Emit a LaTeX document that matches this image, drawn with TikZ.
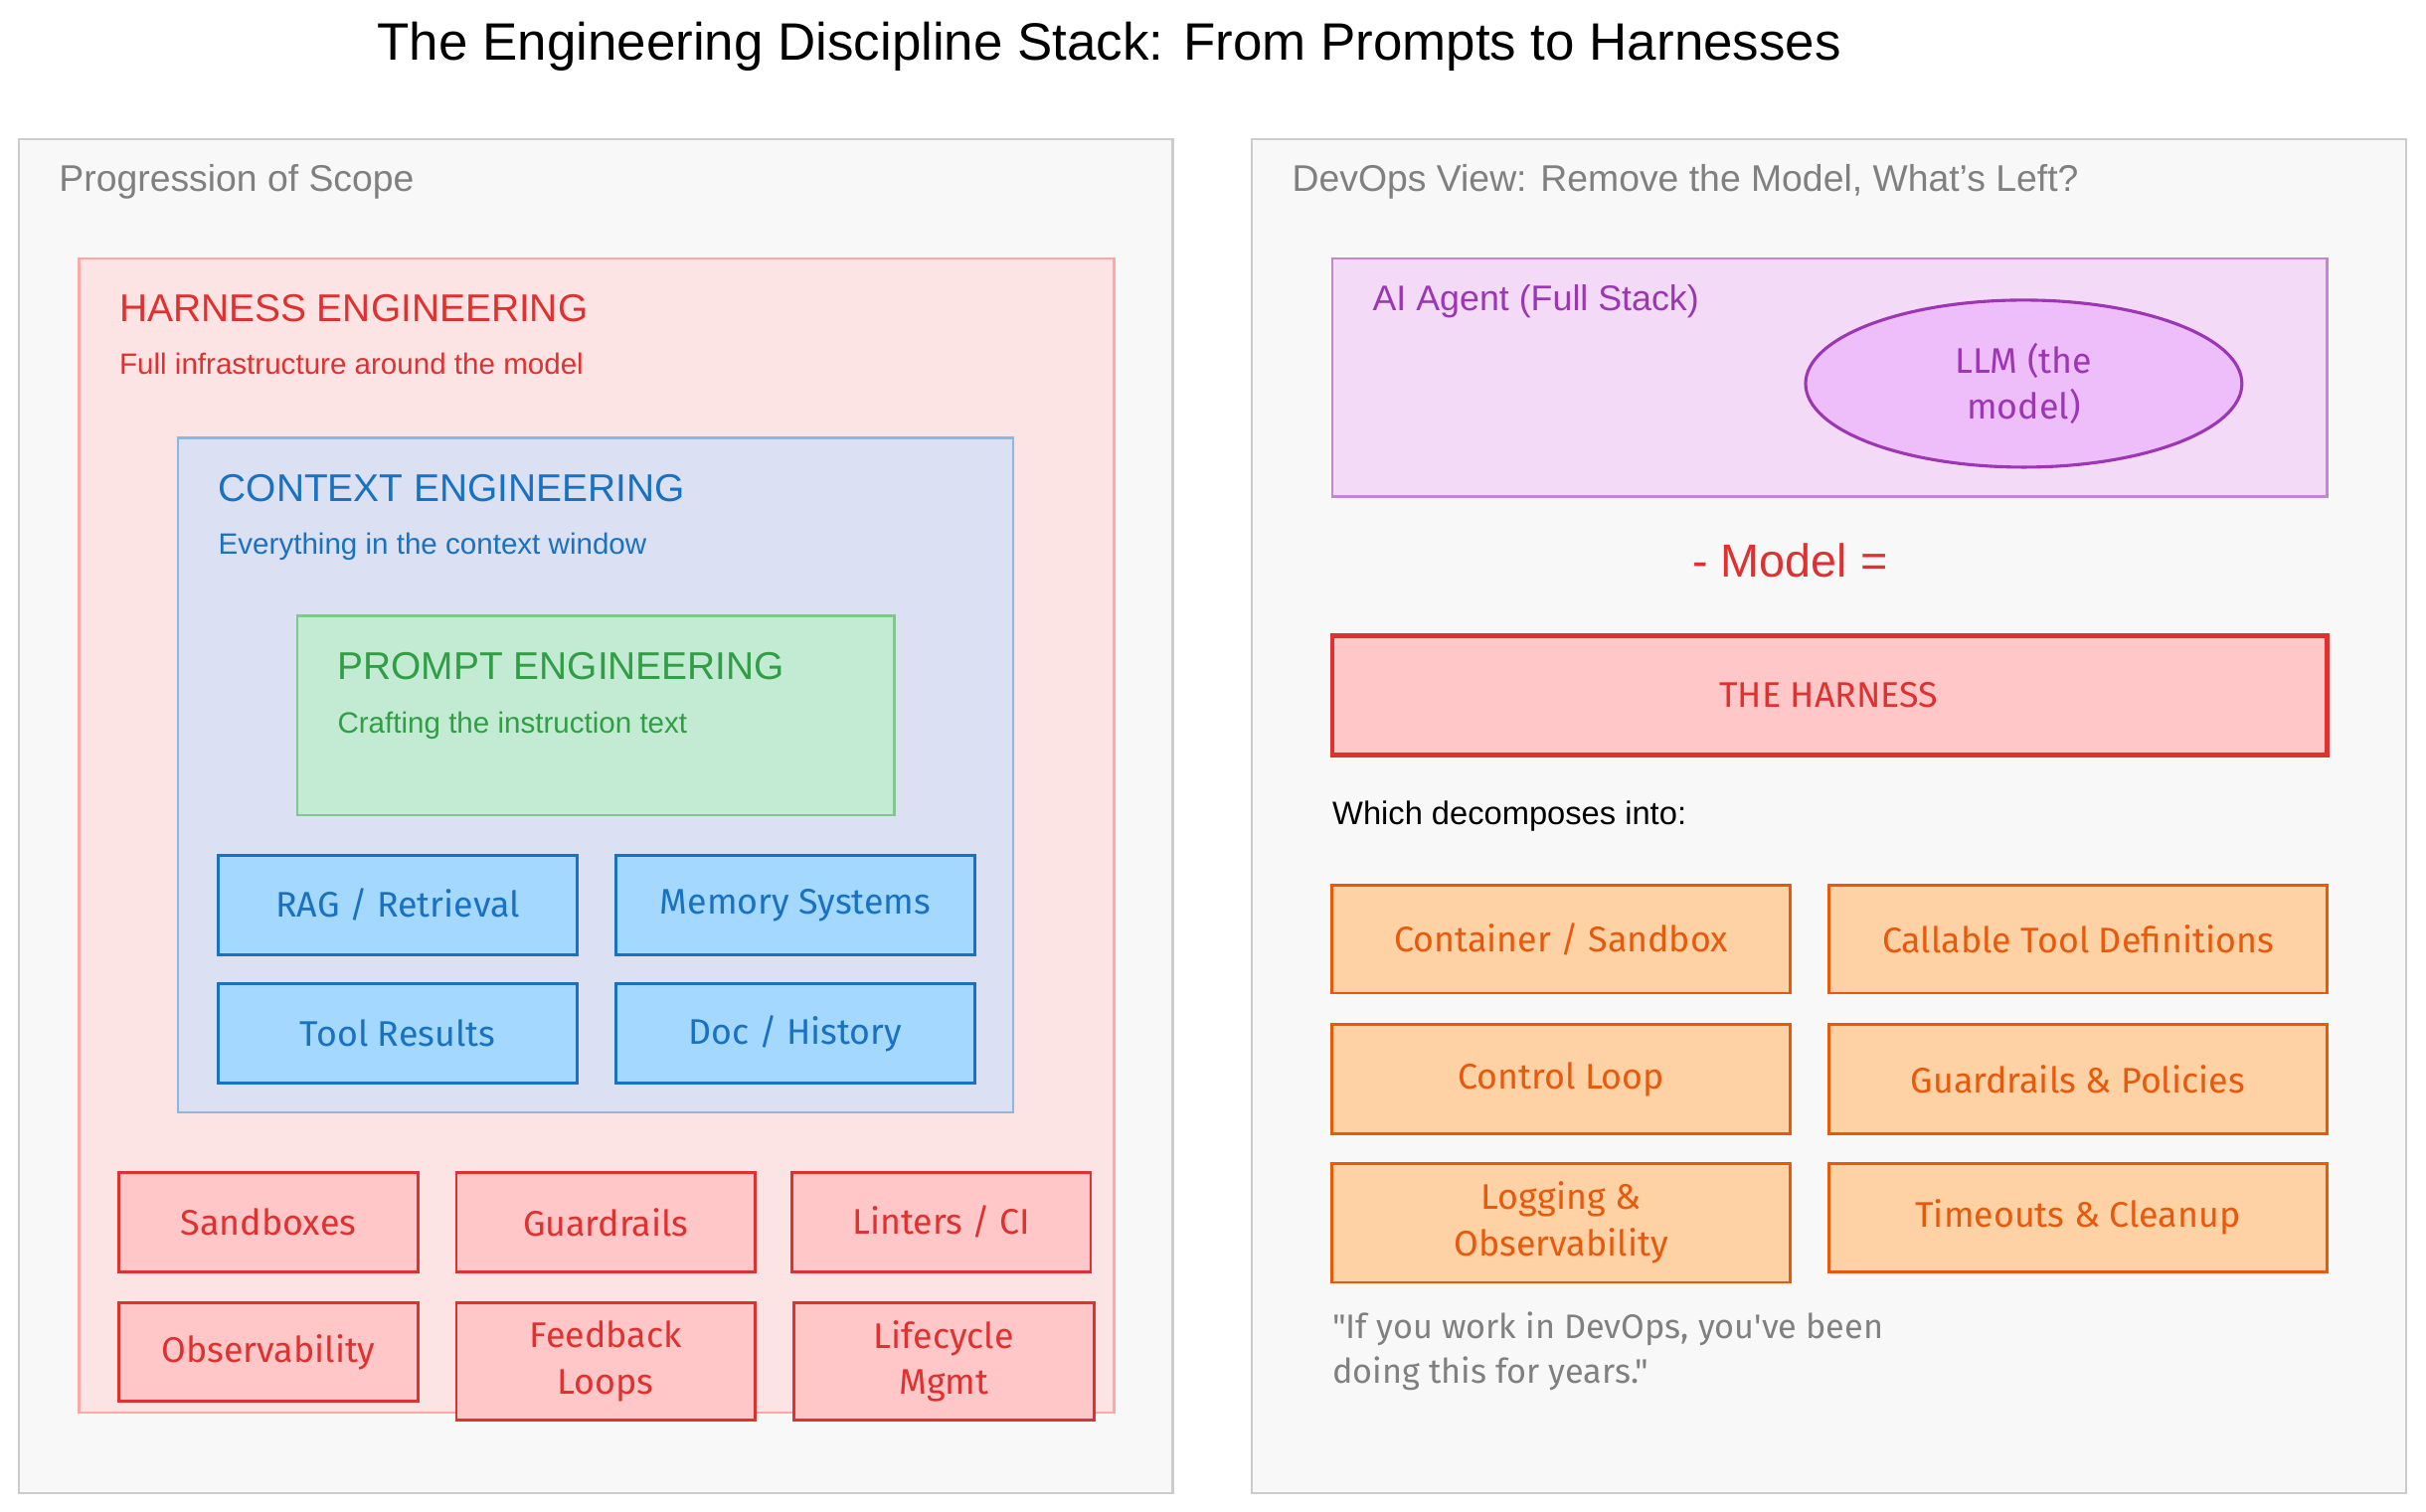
\documentclass[tikz,border=0pt]{standalone}
\usepackage{fontspec}
\setmainfont{Liberation Sans}
\newfontfamily\hand{Fira Sans}
\begin{document}
\begin{tikzpicture}[x=1pt,y=-1pt,
 panel/.style={draw=black!20,fill=blue!2!gray!5,line width=1.5},
 lbl/.style={anchor=base west,inner sep=0},
]
\definecolor{hred}{HTML}{E03131}\definecolor{hblue}{HTML}{1971C2}\definecolor{hgreen}{HTML}{2F9E44}
\definecolor{horange}{HTML}{E8590C}\definecolor{hpurple}{HTML}{9C36B5}
\definecolor{ctxfill}{HTML}{DBE0F2}\definecolor{prfill}{HTML}{C3EAD2}\definecolor{agfill}{HTML}{F3DBF7}
\definecolor{llmfill}{HTML}{EEBEFA}\definecolor{bfill}{HTML}{A5D8FF}\definecolor{hfill}{HTML}{FCE4E4}
\path[use as bounding box] (0,0) rectangle (1568,977);
\node (title) at (717,30) {\fontsize{34}{38}\selectfont The Engineering Discipline Stack: From Prompts to Harnesses};
% left
\draw[panel] (12,90) rectangle (758,965);
\node[lbl,text=gray] (lp) at (38,124) {\fontsize{24}{28}\selectfont Progression of Scope};
\draw[draw=red!35,fill=hfill,line width=1.5] (51,167) rectangle (720,913);
\node[lbl,text=hred] (ht) at (77,208) {\fontsize{25}{28}\selectfont HARNESS ENGINEERING};
\node[lbl,text=hred] (hs) at (77,242) {\fontsize{19}{22}\selectfont Full infrastructure around the model};
\draw[draw=hblue!50,fill=ctxfill,line width=1.5] (115,283) rectangle (655,719);
\node[lbl,text=hblue] (ct) at (141,324) {\fontsize{25}{28}\selectfont CONTEXT ENGINEERING};
\node[lbl,text=hblue] (cs) at (141,358) {\fontsize{19}{22}\selectfont Everything in the context window};
\draw[draw=hgreen!60,fill=prfill,line width=1.5] (192,398) rectangle (578,527);
\node[lbl,text=hgreen] (pt) at (218,439) {\fontsize{25}{28}\selectfont PROMPT ENGINEERING};
\node[lbl,text=hgreen] (ps) at (218,474) {\fontsize{19}{22}\selectfont Crafting the instruction text};
\foreach \n/\a/\b/\c/\d/\t in {rag/141/553/373/617/{RAG / Retrieval},mem/398/553/630/617/Memory Systems,tr/141/636/373/700/Tool Results,doc/398/636/630/700/{Doc / History}}{
 \draw[hblue,fill=bfill,line width=1.8] (\a,\b) rectangle (\c,\d);
 \node[text=hblue,font=\hand\fontsize{23}{26}\selectfont] (\n) at ({(\a+\c)/2},{(\b+\d)/2}) {\t};}
\foreach \n/\a/\b/\c/\d/\t in {sb/77/758/270/822/Sandboxes,gr/295/758/488/822/Guardrails,li/512/758/705/822/{Linters / CI},ob/77/842/270/906/Observability,fl/295/842/488/918/Feedback\\Loops,lm/513/842/707/918/Lifecycle\\Mgmt}{
 \draw[hred,fill=red!22!white,line width=1.8] (\a,\b) rectangle (\c,\d);
 \node[text=hred,align=center,font=\hand\fontsize{23}{30}\selectfont] (\n) at ({(\a+\c)/2},{(\b+\d)/2}) {\t};}
% right
\draw[panel] (809,90) rectangle (1555,965);
\node[lbl,text=gray] (rp) at (835,124) {\fontsize{24}{28}\selectfont DevOps View: Remove the Model, What's Left?};
\draw[draw=hpurple!60,fill=agfill,line width=1.5] (861,167) rectangle (1504,321);
\node[lbl,text=hpurple] (ag) at (887,201) {\fontsize{23}{26}\selectfont AI Agent (Full Stack)};
\draw[hpurple,fill=llmfill,line width=2] (1308,248) ellipse (141 and 54);
\node[text=hpurple,align=center,font=\hand\fontsize{23}{30}\selectfont] (llm) at (1308,248) {LLM (the\\model)};
\node[text=hred] (minus) at (1157,362) {\fontsize{30}{34}\selectfont - Model =};
\draw[hred,fill=red!22!white,line width=3] (861,411) rectangle (1504,488);
\node[text=hred,font=\hand\fontsize{23}{26}\selectfont] (harn) at (1182,449) {THE HARNESS};
\node[lbl] (wd) at (861,533) {\fontsize{21}{24}\selectfont Which decomposes into:};
\foreach \n/\a/\b/\c/\d/\t in {cs1/861/572/1157/642/{Container / Sandbox},ctd/1182/572/1504/642/Callable Tool Definitions,cl/861/662/1157/733/Control Loop,gp/1182/662/1504/733/Guardrails \& Policies,lo/861/752/1157/829/Logging \&\\Observability,tc/1182/752/1504/822/Timeouts \& Cleanup}{
 \draw[horange,fill=orange!35!white,line width=1.8] (\a,\b) rectangle (\c,\d);
 \node[text=horange,align=center,font=\hand\fontsize{23}{30}\selectfont] (\n) at ({(\a+\c)/2},{(\b+\d)/2}) {\t};}
\node[anchor=north west,inner sep=0,align=left,text=gray,font=\hand\fontsize{22}{29}\selectfont] (q) at (861,848) {"If you work in DevOps, you've been\\doing this for years."};
\end{tikzpicture}
\end{document}
